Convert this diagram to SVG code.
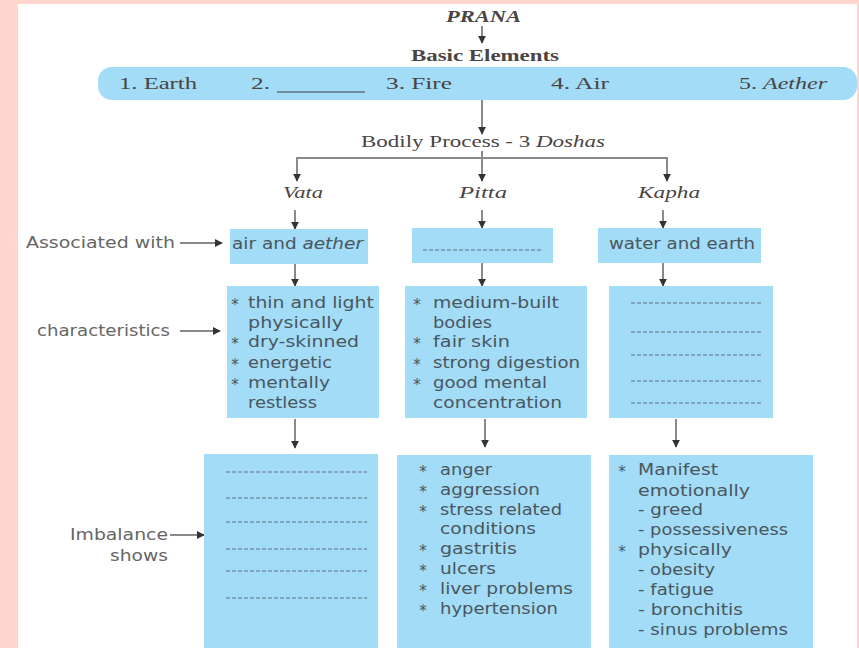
<svg xmlns="http://www.w3.org/2000/svg" width="859" height="648" viewBox="0 0 859 648">
<defs>
<marker id="ah" viewBox="0 0 10 10" refX="9" refY="5" markerWidth="4" markerHeight="4" orient="auto" markerUnits="strokeWidth">
<path d="M0,0 L10,5 L0,10 z" fill="#333"/>
</marker>
<style>
.bg{fill:#FFD5CE}
.page{fill:#ffffff}
.box{fill:#A2DCF6}
.ln{stroke:#8a8a8a;stroke-width:2;fill:none}
.ar{stroke:#8a8a8a;stroke-width:2;fill:none;marker-end:url(#ah)}
.dot{stroke:#7894a8;stroke-width:1.3;stroke-dasharray:4 2;fill:none}
.ser{font-family:"Liberation Serif",serif;font-size:16px;fill:#4a4444}
.it{font-style:italic}
.bd{font-weight:bold}
.lab{font-family:"DejaVu Sans","Liberation Sans",sans-serif;font-size:15px;fill:#666}
.tx{font-family:"DejaVu Sans","Liberation Sans",sans-serif;font-size:15px;fill:#4a5660}
.bul{font-family:"DejaVu Sans",sans-serif;font-size:15px;fill:#4a5660;text-anchor:middle}
</style>
</defs>
<rect class="bg" x="0" y="0" width="859" height="648"/>
<rect class="page" x="18" y="4" width="839" height="644"/>

<g id="connectors">
<line class="ar" x1="482" y1="26" x2="482" y2="43"/>
<line class="ar" x1="482" y1="100" x2="482" y2="134"/>
<polyline class="ln" points="482,151 482,158"/>
<polyline class="ln" points="297,180 297,158 667,158 667,180"/>
<line class="ar" x1="297" y1="158" x2="297" y2="181"/>
<line class="ar" x1="482" y1="158" x2="482" y2="181"/>
<line class="ar" x1="667" y1="158" x2="667" y2="181"/>
<line class="ar" x1="295" y1="210" x2="295" y2="229"/>
<line class="ar" x1="482" y1="210" x2="482" y2="228"/>
<line class="ar" x1="663" y1="210" x2="663" y2="228"/>
<line class="ar" x1="295" y1="264" x2="295" y2="286"/>
<line class="ar" x1="482" y1="263" x2="482" y2="286"/>
<line class="ar" x1="663" y1="263" x2="663" y2="286"/>
<line class="ar" x1="295" y1="419" x2="295" y2="448"/>
<line class="ar" x1="485" y1="419" x2="485" y2="447"/>
<line class="ar" x1="676" y1="419" x2="676" y2="447"/>
<line class="ar" x1="180" y1="243" x2="222" y2="243"/>
<line class="ar" x1="180" y1="331" x2="220" y2="331"/>
<line class="ar" x1="170" y1="535" x2="204" y2="535"/>
</g>

<g id="prana">
<text class="ser it bd" x="446" y="22" textLength="75" lengthAdjust="spacingAndGlyphs" font-size="14">PRANA</text>
</g>
<g id="basic-elements">
<text class="ser bd" x="411" y="61" textLength="148" lengthAdjust="spacingAndGlyphs">Basic Elements</text>
</g>
<g id="elements-bar">
<rect class="box" x="98" y="67" width="759" height="33" rx="14"/>
<text class="ser" x="119" y="89" textLength="78" lengthAdjust="spacingAndGlyphs">1. Earth</text>
<text class="ser" x="251" y="89" textLength="19" lengthAdjust="spacingAndGlyphs">2.</text>
<line x1="277" y1="92" x2="365" y2="92" stroke="#5d7382" stroke-width="1.5"/>
<text class="ser" x="386" y="89" textLength="66" lengthAdjust="spacingAndGlyphs">3. Fire</text>
<text class="ser" x="551" y="89" textLength="58" lengthAdjust="spacingAndGlyphs">4. Air</text>
<text class="ser" x="739" y="89" textLength="88" lengthAdjust="spacingAndGlyphs">5. <tspan class="it">Aether</tspan></text>
</g>
<g id="bodily-process">
<text class="ser" x="361" y="147" textLength="244" lengthAdjust="spacingAndGlyphs">Bodily Process - 3 <tspan class="it">Doshas</tspan></text>
</g>
<g id="vata">
<text class="ser it" x="283" y="198" textLength="40" lengthAdjust="spacingAndGlyphs">Vata</text>
</g>
<g id="pitta">
<text class="ser it" x="459" y="198" textLength="48" lengthAdjust="spacingAndGlyphs">Pitta</text>
</g>
<g id="kapha">
<text class="ser it" x="638" y="198" textLength="62" lengthAdjust="spacingAndGlyphs">Kapha</text>
</g>

<g id="label-associated">
<text class="lab" x="26" y="248" textLength="149" lengthAdjust="spacingAndGlyphs">Associated with</text>
</g>
<g id="label-characteristics">
<text class="lab" x="37" y="336" textLength="133" lengthAdjust="spacingAndGlyphs">characteristics</text>
</g>
<g id="label-imbalance">
<text class="lab" x="70" y="540" textLength="98" lengthAdjust="spacingAndGlyphs">Imbalance</text>
<text class="lab" x="110" y="561" textLength="58" lengthAdjust="spacingAndGlyphs">shows</text>
</g>

<g id="vata-associated">
<rect class="box" x="230" y="229" width="138" height="35"/>
<text class="tx" x="232" y="249" textLength="131" lengthAdjust="spacingAndGlyphs">air and <tspan font-style="italic">aether</tspan></text>
</g>
<g id="pitta-associated">
<rect class="box" x="412" y="228" width="141" height="35"/>
<line class="dot" x1="423" y1="250" x2="543" y2="250"/>
</g>
<g id="kapha-associated">
<rect class="box" x="598" y="228" width="163" height="35"/>
<text class="tx" x="609" y="249" textLength="146" lengthAdjust="spacingAndGlyphs">water and earth</text>
</g>

<g id="vata-characteristics">
<rect class="box" x="227" y="286" width="152" height="132"/>
<text class="bul" x="235" y="310">*</text>
<text class="tx" x="248" y="308" textLength="126" lengthAdjust="spacingAndGlyphs">thin and light</text>
<text class="tx" x="248" y="328" textLength="95" lengthAdjust="spacingAndGlyphs">physically</text>
<text class="bul" x="235" y="349">*</text>
<text class="tx" x="248" y="347" textLength="111" lengthAdjust="spacingAndGlyphs">dry-skinned</text>
<text class="bul" x="235" y="370">*</text>
<text class="tx" x="248" y="368" textLength="84" lengthAdjust="spacingAndGlyphs">energetic</text>
<text class="bul" x="235" y="390">*</text>
<text class="tx" x="248" y="388" textLength="82" lengthAdjust="spacingAndGlyphs">mentally</text>
<text class="tx" x="248" y="408" textLength="69" lengthAdjust="spacingAndGlyphs">restless</text>
</g>
<g id="pitta-characteristics">
<rect class="box" x="405" y="286" width="182" height="132"/>
<text class="bul" x="417" y="310">*</text>
<text class="tx" x="433" y="308" textLength="126" lengthAdjust="spacingAndGlyphs">medium-built</text>
<text class="tx" x="433" y="328" textLength="59" lengthAdjust="spacingAndGlyphs">bodies</text>
<text class="bul" x="417" y="349">*</text>
<text class="tx" x="433" y="347" textLength="77" lengthAdjust="spacingAndGlyphs">fair skin</text>
<text class="bul" x="417" y="370">*</text>
<text class="tx" x="433" y="368" textLength="147" lengthAdjust="spacingAndGlyphs">strong digestion</text>
<text class="bul" x="417" y="390">*</text>
<text class="tx" x="433" y="388" textLength="114" lengthAdjust="spacingAndGlyphs">good mental</text>
<text class="tx" x="433" y="408" textLength="129" lengthAdjust="spacingAndGlyphs">concentration</text>
</g>
<g id="kapha-characteristics">
<rect class="box" x="609" y="286" width="164" height="132"/>
<line class="dot" x1="631" y1="303" x2="762" y2="303"/>
<line class="dot" x1="631" y1="332" x2="762" y2="332"/>
<line class="dot" x1="631" y1="355" x2="762" y2="355"/>
<line class="dot" x1="631" y1="381" x2="762" y2="381"/>
<line class="dot" x1="631" y1="403" x2="762" y2="403"/>
</g>

<g id="vata-imbalance">
<rect class="box" x="204" y="454" width="174" height="194"/>
<line class="dot" x1="226" y1="472" x2="367" y2="472"/>
<line class="dot" x1="226" y1="498" x2="367" y2="498"/>
<line class="dot" x1="226" y1="522" x2="367" y2="522"/>
<line class="dot" x1="226" y1="549" x2="367" y2="549"/>
<line class="dot" x1="226" y1="571" x2="367" y2="571"/>
<line class="dot" x1="226" y1="598" x2="367" y2="598"/>
</g>
<g id="pitta-imbalance">
<rect class="box" x="397" y="455" width="194" height="193"/>
<text class="bul" x="423" y="477">*</text>
<text class="tx" x="440" y="475" textLength="52" lengthAdjust="spacingAndGlyphs">anger</text>
<text class="bul" x="423" y="497">*</text>
<text class="tx" x="440" y="495" textLength="100" lengthAdjust="spacingAndGlyphs">aggression</text>
<text class="bul" x="423" y="517">*</text>
<text class="tx" x="440" y="515" textLength="122" lengthAdjust="spacingAndGlyphs">stress related</text>
<text class="tx" x="440" y="534" textLength="96" lengthAdjust="spacingAndGlyphs">conditions</text>
<text class="bul" x="423" y="556">*</text>
<text class="tx" x="440" y="554" textLength="77" lengthAdjust="spacingAndGlyphs">gastritis</text>
<text class="bul" x="423" y="576">*</text>
<text class="tx" x="440" y="574" textLength="56" lengthAdjust="spacingAndGlyphs">ulcers</text>
<text class="bul" x="423" y="596">*</text>
<text class="tx" x="440" y="594" textLength="133" lengthAdjust="spacingAndGlyphs">liver problems</text>
<text class="bul" x="423" y="616">*</text>
<text class="tx" x="440" y="614" textLength="118" lengthAdjust="spacingAndGlyphs">hypertension</text>
</g>
<g id="kapha-imbalance">
<rect class="box" x="609" y="455" width="204" height="193"/>
<text class="bul" x="622" y="477">*</text>
<text class="tx" x="638" y="475" textLength="80" lengthAdjust="spacingAndGlyphs">Manifest</text>
<text class="tx" x="638" y="496" textLength="112" lengthAdjust="spacingAndGlyphs">emotionally</text>
<text class="tx" x="638" y="515" textLength="65" lengthAdjust="spacingAndGlyphs">- greed</text>
<text class="tx" x="638" y="535" textLength="150" lengthAdjust="spacingAndGlyphs">- possessiveness</text>
<text class="bul" x="622" y="557">*</text>
<text class="tx" x="638" y="555" textLength="94" lengthAdjust="spacingAndGlyphs">physically</text>
<text class="tx" x="638" y="575" textLength="77" lengthAdjust="spacingAndGlyphs">- obesity</text>
<text class="tx" x="638" y="595" textLength="76" lengthAdjust="spacingAndGlyphs">- fatigue</text>
<text class="tx" x="638" y="615" textLength="105" lengthAdjust="spacingAndGlyphs">- bronchitis</text>
<text class="tx" x="638" y="635" textLength="150" lengthAdjust="spacingAndGlyphs">- sinus problems</text>
</g>
</svg>
